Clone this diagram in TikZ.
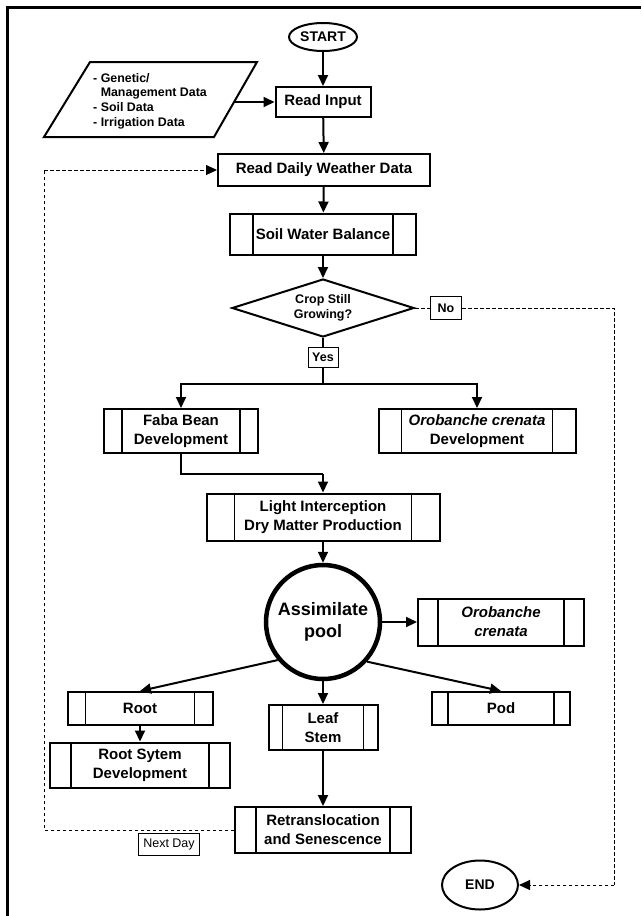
\documentclass[tikz,border=0pt]{standalone}
\usepackage{fontspec}
\setmainfont{Liberation Sans}
\usetikzlibrary{arrows.meta,shapes.geometric,calc}
\begin{document}
\begin{tikzpicture}[x=1pt,y=-1pt,
  box/.style={draw, line width=2pt, inner sep=0pt, align=center, font=\bfseries\fontsize{15}{19}\selectfont},
  procbox/.style={box, path picture={\draw[line width=1.6pt]
      ([xshift=#1]path picture bounding box.north west) -- ([xshift=#1]path picture bounding box.south west)
      ([xshift=-#1]path picture bounding box.north east) -- ([xshift=-#1]path picture bounding box.south east);}},
  lab/.style={draw, line width=1pt, inner sep=0pt, font=\bfseries\fontsize{12.5}{15}\selectfont},
  oval/.style={draw, ellipse, line width=2pt, inner sep=0pt, font=\bfseries\fontsize{14}{16}\selectfont},
  conn/.style={line width=2pt},
  arr/.style={line width=2pt, -{Triangle[length=11pt,width=10pt]}},
  dashline/.style={line width=1pt, dash pattern=on 3.5pt off 2.5pt},
  dasharr/.style={dashline, -{Triangle[length=11pt,width=10pt]}}
]
\useasboundingbox (0,0) rectangle (641,916);
% frame
\draw[line width=3pt] (7,916) -- (7,7) -- (641,7);

% start and input
\node[oval, minimum width=68pt, minimum height=28pt] (start) at (323,37) {START};
\node[box, minimum width=95pt, minimum height=30pt] (readin) at (323,102) {Read Input};
\coordinate (pBL) at (44,137);
\coordinate (pTL) at (90,62);
\coordinate (pTR) at (257,62);
\coordinate (pBR) at (214,137);
\draw[line width=2pt, line join=miter] (pBL) -- (pTL) -- (pTR) -- (pBR) -- cycle;
\node[align=left, inner sep=0pt, anchor=west, font=\bfseries\fontsize{12.4}{14.7}\selectfont] (inputs) at (93,101)
  {- Genetic/\\\phantom{- }Management Data\\- Soil Data\\- Irrigation Data};
\coordinate (inpE) at (234,102);

\node[box, minimum width=212pt, minimum height=32pt] (daily) at (324,170) {Read Daily Weather Data};
\node[procbox=23pt, minimum width=186pt, minimum height=41pt] (swb) at (323,234) {Soil Water Balance};
\node[draw, diamond, line width=2pt, minimum width=182pt, minimum height=58pt, aspect=3.1, inner sep=0pt,
  align=center, font=\bfseries\fontsize{12.5}{15}\selectfont] (crop) at (323,308) {Crop Still\\Growing?};
\node[lab, minimum width=31pt, minimum height=23pt] (no) at (446,308) {No};
\node[lab, minimum width=30pt, minimum height=20pt] (yes) at (323,357) {Yes};

\node[procbox=18pt, minimum width=154pt, minimum height=44pt] (faba) at (181,431) {Faba Bean\\Development};
\node[procbox=23pt, minimum width=197pt, minimum height=44pt] (orodev) at (477,431) {\textit{Orobanche crenata}\\Development};
\node[procbox=28pt, minimum width=233pt, minimum height=47pt] (light) at (323,517) {Light Interception\\Dry Matter Production};
\node[draw, circle, line width=4.5pt, minimum size=114pt, inner sep=0pt, align=center,
  font=\bfseries\fontsize{18}{22}\selectfont] (pool) at (323,622) {Assimilate\\pool};
\node[procbox=20pt, minimum width=166pt, minimum height=47pt] (orocr) at (501,622) {\textit{Orobanche}\\\textit{crenata}};

\node[procbox=18pt, minimum width=145pt, minimum height=33pt] (root) at (140,708.5) {Root};
\node[procbox=14pt, minimum width=109pt, minimum height=45pt] (leaf) at (323,727.5) {Leaf\\Stem};
\node[procbox=16pt, minimum width=138pt, minimum height=33pt] (pod) at (501,708.5) {Pod};
\node[procbox=21pt, minimum width=180pt, minimum height=45pt] (rootsys) at (140,765) {Root Sytem\\Development};
\node[procbox=21pt, minimum width=176pt, minimum height=46pt] (retr) at (323,830) {Retranslocation\\and Senescence};
\node[draw, line width=0.8pt, inner sep=0pt, minimum width=61pt, minimum height=22pt,
  font=\fontsize{12.5}{15}\selectfont] (next) at (169,844) {Next Day};
\node[oval, minimum width=76pt, minimum height=49pt] (end) at (480,885) {END};

% coordinates for routing
\coordinate (split) at (323,384);
\coordinate (splitL) at (181,384);
\coordinate (splitR) at (477,384);
\coordinate (joinL) at (181,474);
\coordinate (joinR) at (323,474);
\coordinate (loopB) at (44,830);
\coordinate (loopT) at (44,170);
\coordinate (noR) at (614,308);
\coordinate (endR) at (614,885);

% connectors
\draw[arr] (start) -- (readin);
\draw[arr] (inpE) -- (readin.west);
\draw[arr] (readin) -- (daily);
\draw[arr] (daily) -- (swb);
\draw[arr] (swb) -- (crop);
\draw[conn] (crop.south) -- (yes.north);
\draw[conn] (yes.south) -- (split);
\draw[conn, line cap=rect] (splitL) -- (splitR);
\draw[arr] (splitL) -- (faba.north);
\draw[arr] (splitR) -- (orodev.north);
\draw[conn, line join=miter] (faba.south) -- (joinL) -- (joinR);
\draw[arr] (joinR) -- (light.north);
\draw[arr] (light) -- (pool);
\draw[arr] (pool.east) -- (orocr.west);
\draw[arr] (pool.-140) -- (root.north);
\draw[arr] (pool.south) -- (leaf.north);
\draw[arr] (pool.-42) -- (pod.north);
\draw[arr] (root) -- (rootsys);
\draw[arr] (leaf) -- (retr);
\draw[dashline] (crop.east) -- (no.west);
\draw[dashline] (no.east) -- (noR) -- (endR);
\draw[dasharr] (endR) -- (end.east);
\draw[dashline] (retr.west) -- (loopB) -- (loopT);
\draw[dasharr] (loopT) -- (daily.west);
\end{tikzpicture}
\end{document}
